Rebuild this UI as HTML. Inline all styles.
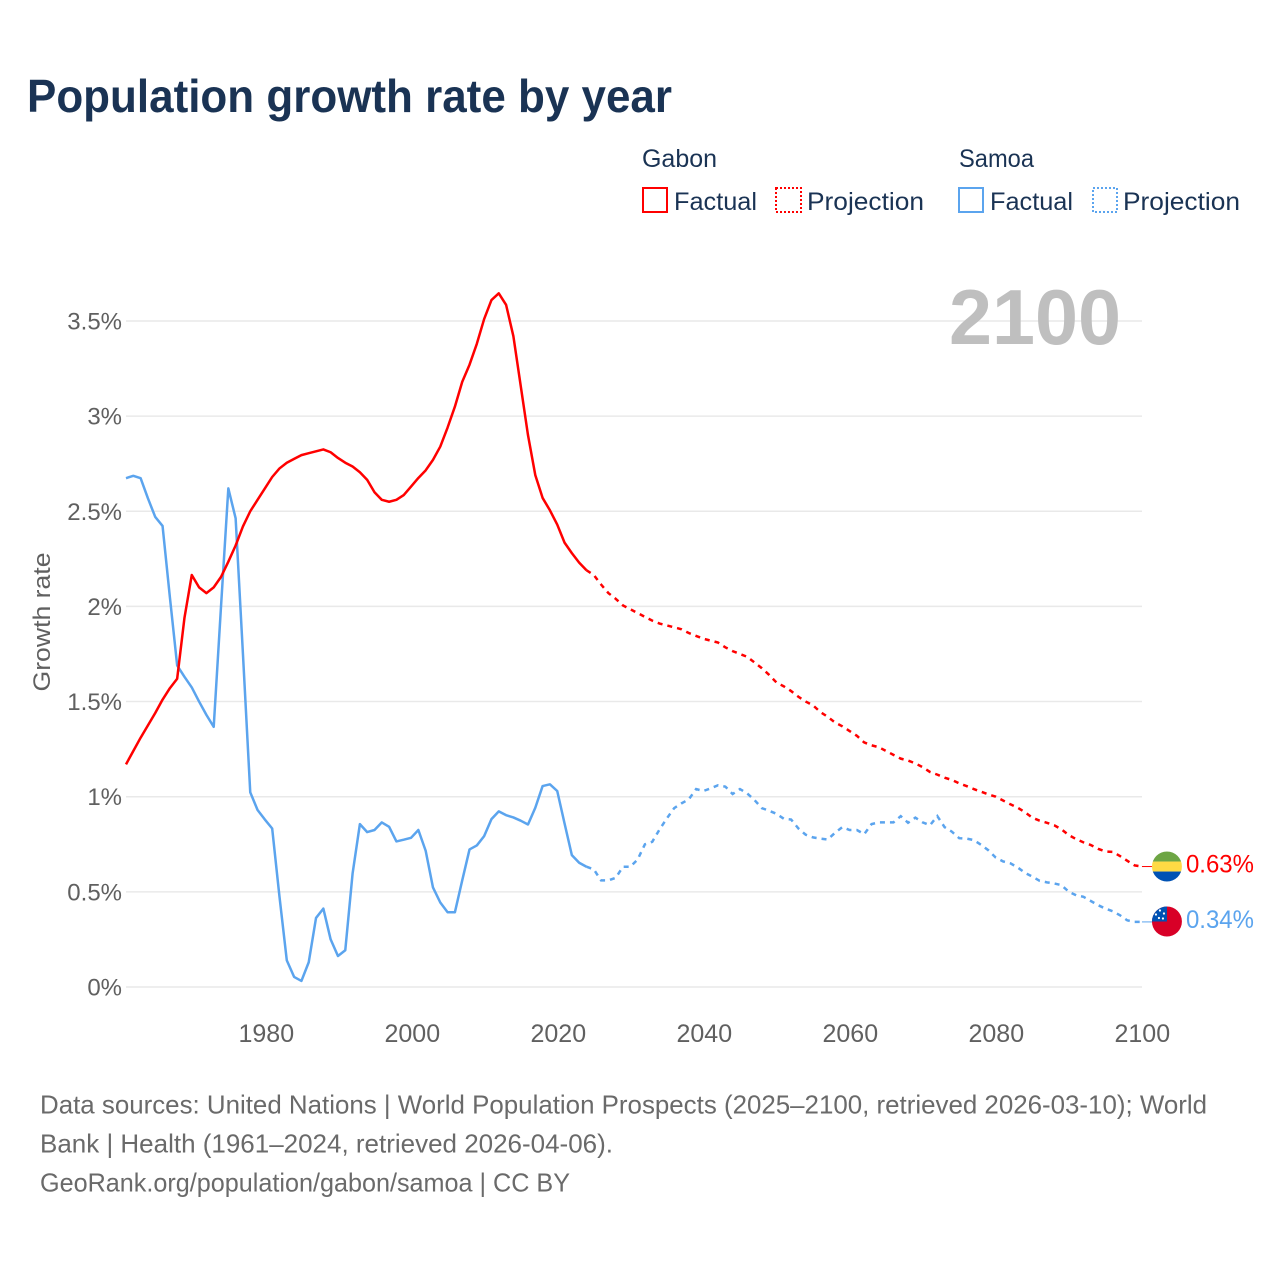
<!DOCTYPE html>
<html lang="en">
<head>
<meta charset="utf-8">
<title>Population growth rate by year</title>
<style>
  html, body { margin: 0; padding: 0; background: #fff; }
  svg { display: block; font-family: "Liberation Sans", sans-serif; }
</style>
</head>
<body>
<svg id="chart" xmlns="http://www.w3.org/2000/svg" width="1280" height="1280" viewBox="0 0 1280 1280">
  <rect x="0" y="0" width="1280" height="1280" fill="#ffffff"/>
  <text x="27" y="112" font-size="46" font-weight="700" fill="#1a3354" textLength="645" lengthAdjust="spacingAndGlyphs">Population growth rate by year</text>

  <g font-size="25" fill="#1a3354">
    <text x="642" y="167" textLength="75" lengthAdjust="spacingAndGlyphs">Gabon</text>
    <text x="959" y="167" textLength="75" lengthAdjust="spacingAndGlyphs">Samoa</text>
    <g>
      <rect x="643" y="188" width="24" height="24" fill="none" stroke="#ff0000" stroke-width="2"/>
      <text x="674" y="210" textLength="83" lengthAdjust="spacingAndGlyphs">Factual</text>
    </g>
    <g>
      <rect x="776" y="188" width="25" height="24" fill="none" stroke="#ff0000" stroke-width="2" stroke-dasharray="2 2"/>
      <text x="807" y="210" textLength="117" lengthAdjust="spacingAndGlyphs">Projection</text>
    </g>
    <g>
      <rect x="959" y="188" width="24" height="24" fill="none" stroke="#5ba4ee" stroke-width="2"/>
      <text x="990" y="210" textLength="83" lengthAdjust="spacingAndGlyphs">Factual</text>
    </g>
    <g>
      <rect x="1093" y="188" width="24" height="24" fill="none" stroke="#5ba4ee" stroke-width="2" stroke-dasharray="2 2"/>
      <text x="1123" y="210" textLength="117" lengthAdjust="spacingAndGlyphs">Projection</text>
    </g>
  </g>

  <g id="grid"></g>
  <g id="yticks" font-size="24" fill="#606060" text-anchor="end"></g>
  <g id="xticks" font-size="25" fill="#606060" text-anchor="middle"></g>
  <text transform="translate(50 622) rotate(-90)" text-anchor="middle" font-size="24.5" fill="#606060" textLength="139" lengthAdjust="spacingAndGlyphs">Growth rate</text>
  <text x="949" y="344" font-size="78" font-weight="700" fill="#bfbfbf" textLength="172" lengthAdjust="spacingAndGlyphs">2100</text>

  <g id="series"></g>

  <g id="flag-gabon">
    <clipPath id="clip-gabon"><circle cx="0" cy="0" r="15"/></clipPath>
    <g clip-path="url(#clip-gabon)">
      <rect x="-15" y="-15" width="30" height="10" fill="#6da544"/>
      <rect x="-15" y="-5" width="30" height="10" fill="#ffda44"/>
      <rect x="-15" y="5" width="30" height="10" fill="#0052b4"/>
    </g>
  </g>
  <g id="flag-samoa">
    <clipPath id="clip-samoa"><circle cx="0" cy="0" r="15"/></clipPath>
    <g clip-path="url(#clip-samoa)">
      <rect x="-15" y="-15" width="30" height="30" fill="#d80027"/>
      <rect x="-15" y="-15" width="15" height="15" fill="#0052b4"/>
      <circle cx="-7" cy="-11" r="1.1" fill="#fff"/>
      <circle cx="-3" cy="-8" r="1.1" fill="#fff"/>
      <circle cx="-11" cy="-7" r="1.1" fill="#fff"/>
      <circle cx="-8" cy="-3.5" r="1.1" fill="#fff"/>
      <circle cx="-4" cy="-3" r="1.1" fill="#fff"/>
    </g>
  </g>
  <g id="endlabels" font-size="25"></g>

  <g font-size="26" fill="#6a6a6a">
    <text x="40" y="1113.5" textLength="1167" lengthAdjust="spacingAndGlyphs">Data sources: United Nations | World Population Prospects (2025–2100, retrieved 2026-03-10); World</text>
    <text x="40" y="1152.5" textLength="573" lengthAdjust="spacingAndGlyphs">Bank | Health (1961–2024, retrieved 2026-04-06).</text>
    <text x="40" y="1191.5" textLength="530" lengthAdjust="spacingAndGlyphs">GeoRank.org/population/gabon/samoa | CC BY</text>
  </g>
</svg>
<script>
const factualYears = [1961,1962,1963,1964,1965,1966,1967,1968,1969,1970,1971,1972,1973,1974,1975,1976,1977,1978,1979,1980,1981,1982,1983,1984,1985,1986,1987,1988,1989,1990,1991,1992,1993,1994,1995,1996,1997,1998,1999,2000,2001,2002,2003,2004,2005,2006,2007,2008,2009,2010,2011,2012,2013,2014,2015,2016,2017,2018,2019,2020,2021,2022,2023,2024];
const projectionYears = [2024,2025,2026,2027,2028,2029,2030,2031,2032,2033,2034,2035,2036,2037,2038,2039,2040,2041,2042,2043,2044,2045,2046,2047,2048,2049,2050,2051,2052,2053,2054,2055,2056,2057,2058,2059,2060,2061,2062,2063,2064,2065,2066,2067,2068,2069,2070,2071,2072,2073,2074,2075,2076,2077,2078,2079,2080,2081,2082,2083,2084,2085,2086,2087,2088,2089,2090,2091,2092,2093,2094,2095,2096,2097,2098,2099,2100];
const gabonFactual = [1.17,1.24,1.31,1.375,1.44,1.51,1.57,1.62,1.94,2.165,2.10,2.07,2.10,2.155,2.235,2.32,2.42,2.50,2.56,2.62,2.68,2.725,2.755,2.775,2.795,2.805,2.815,2.825,2.81,2.78,2.755,2.735,2.705,2.665,2.60,2.56,2.55,2.56,2.585,2.63,2.675,2.715,2.77,2.84,2.94,3.05,3.18,3.27,3.38,3.51,3.61,3.645,3.585,3.42,3.16,2.90,2.69,2.57,2.505,2.43,2.335,2.28,2.23,2.19];
const gabonProjection = [2.19,2.165,2.115,2.07,2.04,2.005,1.985,1.965,1.945,1.925,1.91,1.90,1.89,1.88,1.86,1.845,1.83,1.82,1.81,1.785,1.765,1.75,1.735,1.705,1.675,1.64,1.60,1.58,1.555,1.525,1.50,1.48,1.445,1.42,1.39,1.37,1.345,1.32,1.285,1.27,1.26,1.24,1.22,1.20,1.19,1.175,1.155,1.13,1.116,1.10,1.088,1.07,1.056,1.04,1.026,1.012,1.0,0.98,0.96,0.942,0.918,0.89,0.874,0.863,0.85,0.828,0.798,0.777,0.76,0.746,0.726,0.712,0.71,0.688,0.663,0.639,0.633];
const samoaFactual = [2.674,2.686,2.674,2.568,2.47,2.423,2.05,1.69,1.63,1.574,1.5,1.43,1.367,2.0,2.62,2.463,1.75,1.023,0.93,0.88,0.833,0.474,0.14,0.053,0.032,0.13,0.363,0.412,0.25,0.163,0.193,0.596,0.856,0.814,0.825,0.865,0.842,0.765,0.774,0.784,0.825,0.716,0.523,0.444,0.393,0.393,0.56,0.723,0.744,0.793,0.882,0.923,0.903,0.891,0.874,0.854,0.942,1.056,1.065,1.03,0.86,0.693,0.653,0.632];
const samoaProjection = [0.632,0.618,0.56,0.56,0.574,0.632,0.632,0.67,0.75,0.763,0.828,0.886,0.94,0.965,0.986,1.04,1.03,1.044,1.06,1.053,1.014,1.04,1.017,0.982,0.94,0.926,0.91,0.884,0.88,0.833,0.80,0.786,0.78,0.775,0.81,0.84,0.825,0.825,0.803,0.856,0.865,0.865,0.865,0.898,0.863,0.89,0.865,0.85,0.898,0.84,0.816,0.782,0.78,0.772,0.747,0.718,0.68,0.66,0.65,0.628,0.60,0.58,0.558,0.55,0.544,0.535,0.50,0.482,0.474,0.452,0.43,0.412,0.398,0.377,0.35,0.342,0.342];
const yTickValues = [0,0.5,1,1.5,2,2.5,3,3.5];
const yTickLabels = ["0%","0.5%","1%","1.5%","2%","2.5%","3%","3.5%"];
const xTickValues = [1980,2000,2020,2040,2060,2080,2100];
const xTickLabels = ["1980","2000","2020","2040","2060","2080","2100"];
const endLabels = ["0.63%","0.34%"];

const SVG_NS = "http://www.w3.org/2000/svg";
function xScale(year) { return 126 + (year - 1961) * 7.309; }
function xTickScale(year) { return 266.3 + (year - 1980) * 7.3; }
function yScale(value) { return 987 - value * 190.3; }
function linePath(years, values) {
  return values.map(function (v, i) {
    return (i ? "L" : "M") + xScale(years[i]).toFixed(2) + " " + yScale(v).toFixed(2);
  }).join(" ");
}
function make(tag, attrs, parentId) {
  const el = document.createElementNS(SVG_NS, tag);
  Object.keys(attrs).forEach(function (k) { el.setAttribute(k, attrs[k]); });
  document.getElementById(parentId).appendChild(el);
  return el;
}

yTickValues.forEach(function (v, i) {
  const gl = make("line", { x1: 126, x2: 1142, y1: yScale(v), y2: yScale(v), stroke: "#e9e9e9", "stroke-width": 1.5 }, "grid");
  
  
  const t = make("text", { x: 122, y: yScale(v) + 8.5 }, "yticks");
  t.textContent = yTickLabels[i];
  
  
});

xTickValues.forEach(function (v, i) {
  const t = make("text", { x: xTickScale(v), y: 1042 }, "xticks");
  t.textContent = xTickLabels[i];
  
  
});

const GABON_COLOR = "#ff0000";
const SAMOA_COLOR = "#5ba4ee";

const samoaSolid = make("path", { d: linePath(factualYears, samoaFactual), fill: "none", stroke: SAMOA_COLOR, "stroke-width": 2.5, "stroke-linejoin": "round" }, "series");



const samoaDashed = make("path", { d: linePath(projectionYears, samoaProjection), fill: "none", stroke: SAMOA_COLOR, "stroke-width": 2.5, "stroke-dasharray": "5 5" }, "series");



const gabonSolid = make("path", { d: linePath(factualYears, gabonFactual), fill: "none", stroke: GABON_COLOR, "stroke-width": 2.5, "stroke-linejoin": "round" }, "series");



const gabonDashed = make("path", { d: linePath(projectionYears, gabonProjection), fill: "none", stroke: GABON_COLOR, "stroke-width": 2.5, "stroke-dasharray": "5 5" }, "series");



const gabonEndY = yScale(gabonProjection[gabonProjection.length - 1]);
const samoaEndY = yScale(samoaProjection[samoaProjection.length - 1]);
const endX = xScale(2100);

const gabonLeader = make("line", { x1: endX, x2: endX + 10, y1: gabonEndY, y2: gabonEndY, stroke: GABON_COLOR, "stroke-width": 1 }, "series");



const samoaLeader = make("line", { x1: endX, x2: endX + 10, y1: samoaEndY, y2: samoaEndY, stroke: SAMOA_COLOR, "stroke-width": 1 }, "series");



document.getElementById("flag-gabon").setAttribute("transform", "translate(" + (endX + 25) + " " + gabonEndY + ")");
document.getElementById("flag-samoa").setAttribute("transform", "translate(" + (endX + 25) + " " + (samoaEndY - 0.4) + ")");

const gabonEndLabel = make("text", { x: endX + 44, y: gabonEndY + 6, fill: GABON_COLOR, textLength: 68, lengthAdjust: "spacingAndGlyphs" }, "endlabels");
gabonEndLabel.textContent = endLabels[0];



const samoaEndLabel = make("text", { x: endX + 44, y: samoaEndY + 6, fill: SAMOA_COLOR, textLength: 68, lengthAdjust: "spacingAndGlyphs" }, "endlabels");
samoaEndLabel.textContent = endLabels[1];


</script>
</body>
</html>
